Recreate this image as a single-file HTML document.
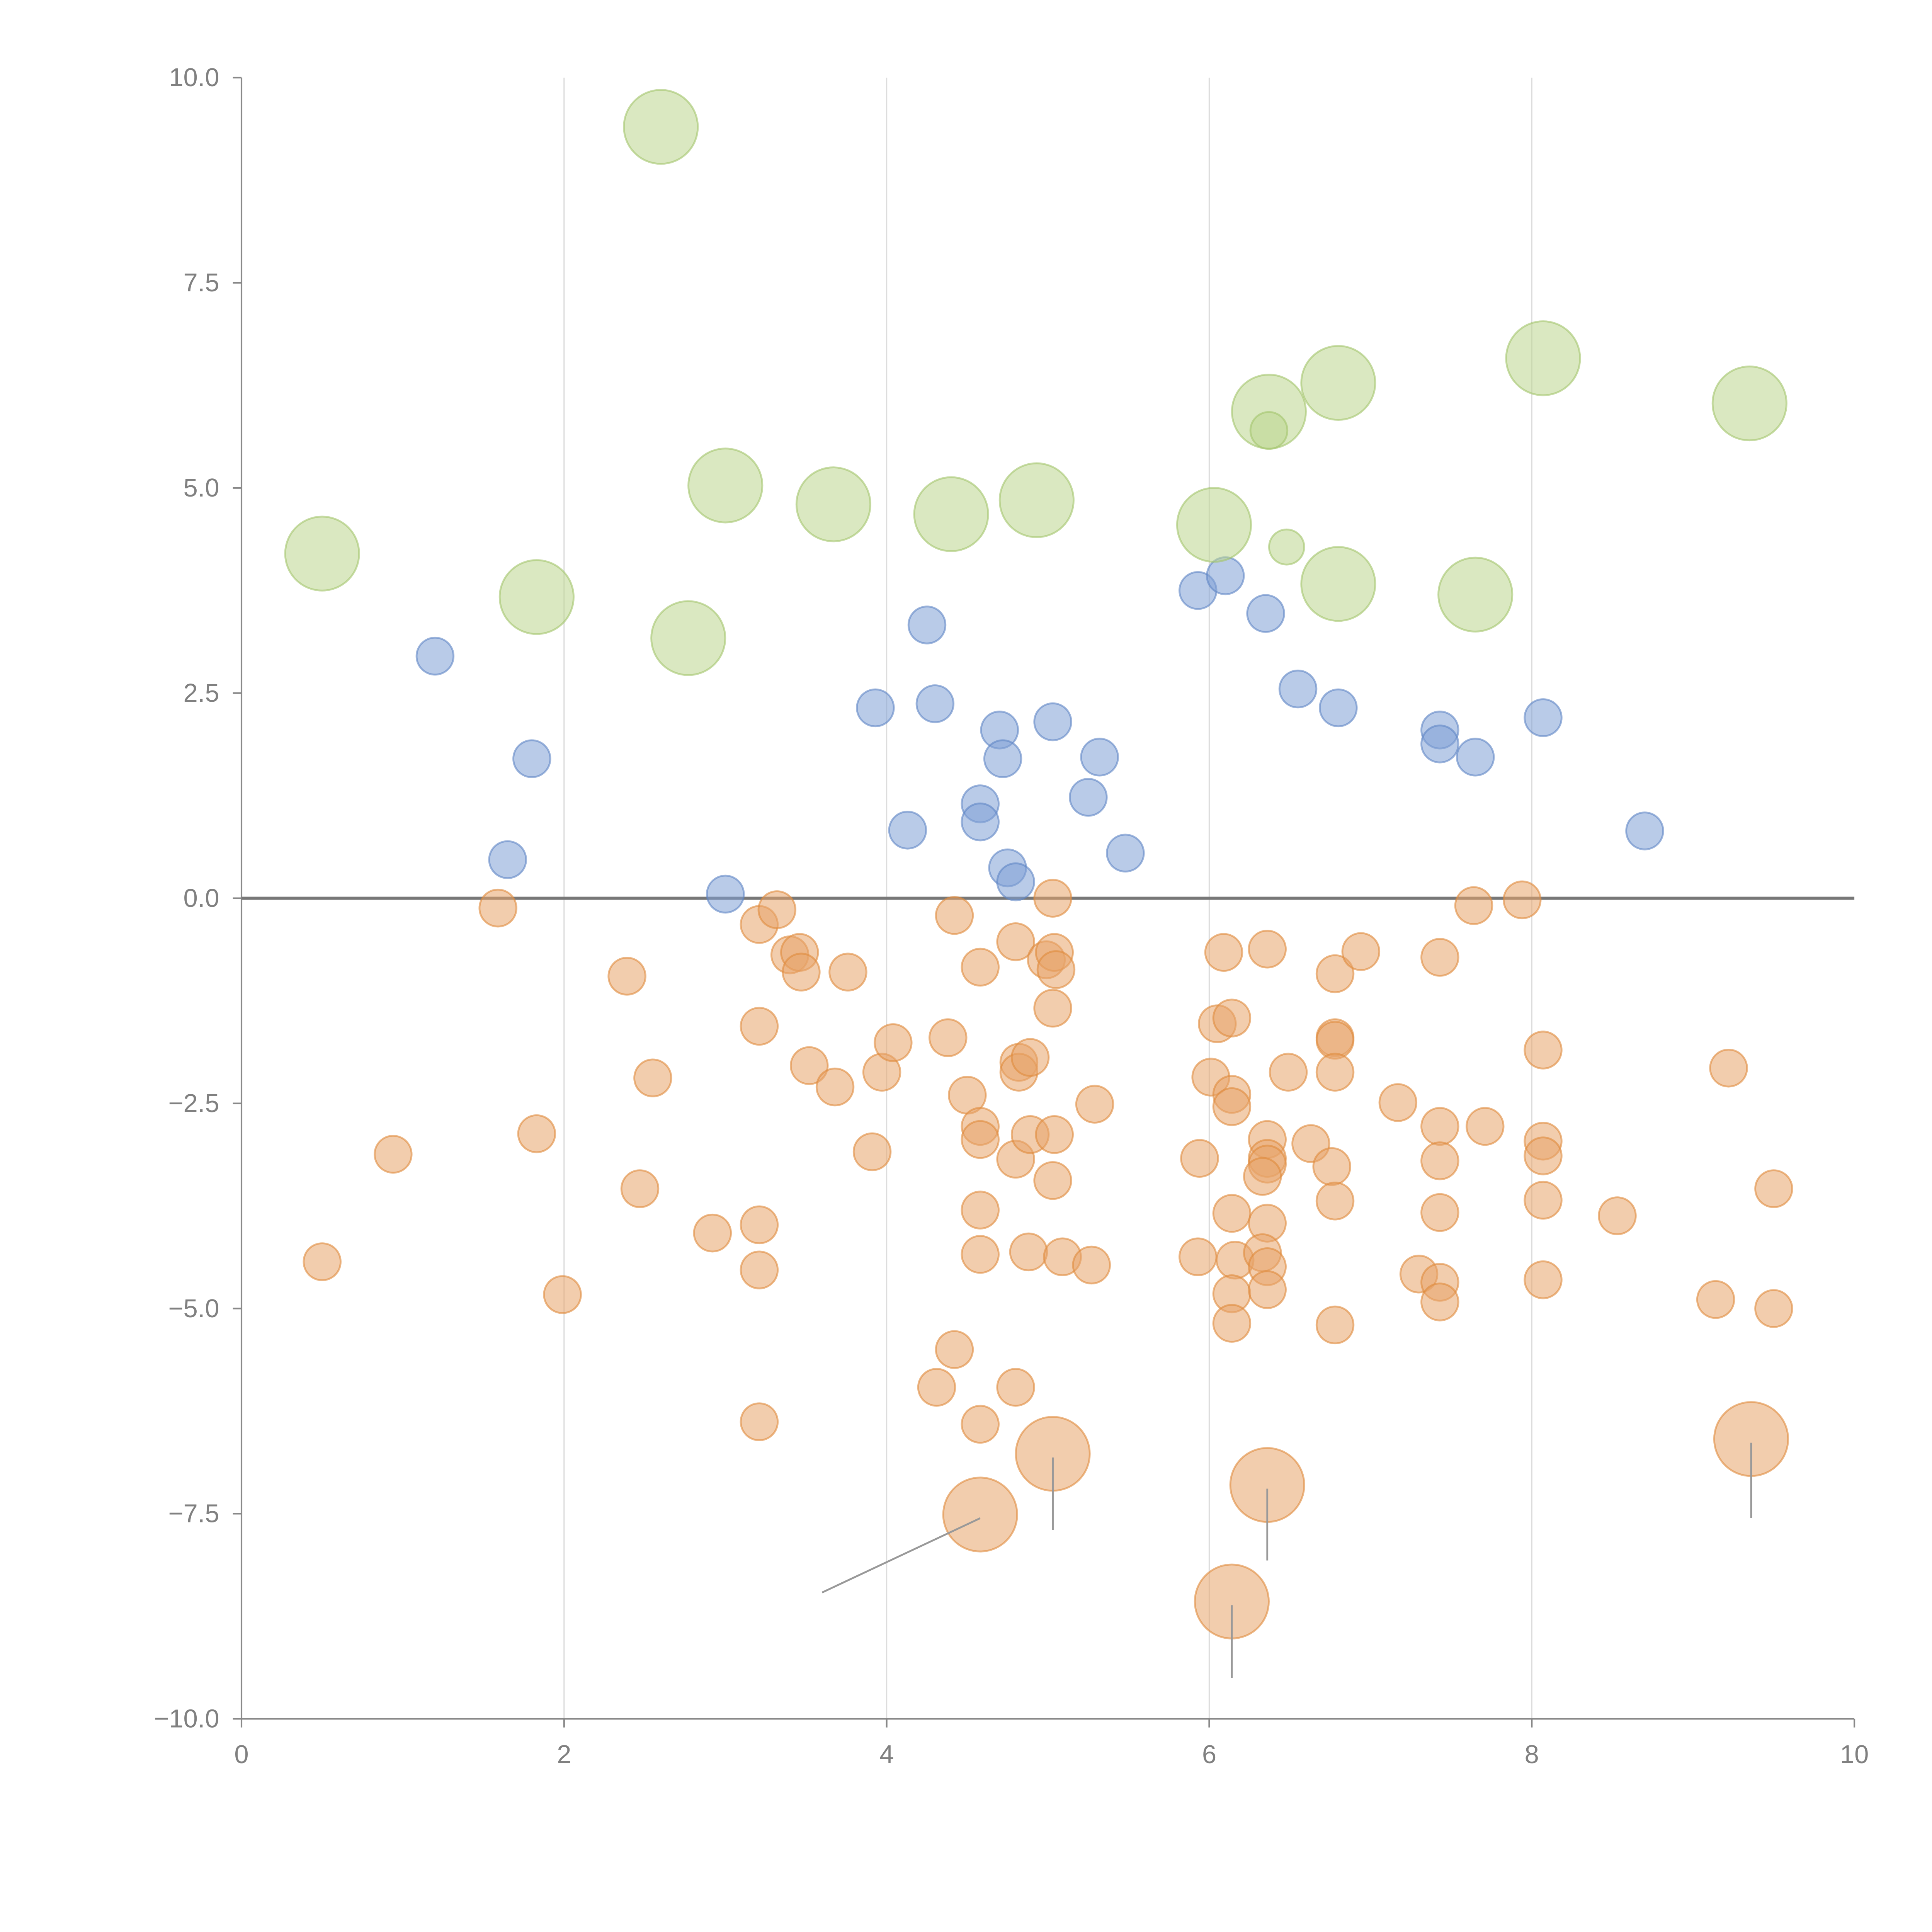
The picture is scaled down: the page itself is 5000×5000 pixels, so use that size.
<!DOCTYPE html>
<html><head><meta charset="utf-8">
<style>html,body{margin:0;padding:0;background:#fff;}svg{display:block;}</style>
</head><body>
<svg id="chart" width="5000" height="5000" viewBox="0 0 1568 1568" xmlns="http://www.w3.org/2000/svg" font-family="Liberation Sans, sans-serif">
<g id="grid"></g>
<g id="axes"></g>
<g id="marks"></g>
</svg>
<script>
const xTicks = [0, 2, 4, 6, 8, 10];
const yTicks = [-10, -7.5, -5, -2.5, 0, 2.5, 5, 7.5, 10];
const yTickLabels = ["\u221210.0", "\u22127.5", "\u22125.0", "\u22122.5", "0.0", "2.5", "5.0", "7.5", "10.0"];
const greenX = [0.5,1.83,2.6,2.77,3.0,3.67,4.4,4.93,6.03,6.37,6.8,6.8,7.65,8.07,9.35,6.37,6.48];
const greenY = [4.2,3.67,9.4,3.17,5.03,4.8,4.68,4.85,4.55,5.93,6.28,3.83,3.7,6.58,6.03,5.7,4.28];
const greenS = [2,2,2,2,2,2,2,2,2,2,2,2,2,2,2,1,0.95];
const blueX = [1.2,1.65,1.8,3.0,3.93,4.13,4.25,4.3,4.7,4.72,4.58,4.58,4.75,4.8,5.03,5.25,5.32,5.48,5.93,6.1,6.35,6.55,6.8,7.43,7.43,7.65,8.07,8.7];
const blueY = [2.95,0.47,1.7,0.05,2.32,0.83,3.33,2.37,2.05,1.7,1.15,0.93,0.37,0.2,2.15,1.23,1.72,0.55,3.75,3.93,3.47,2.55,2.32,2.05,1.88,1.72,2.2,0.82];
const orangeX = [1.59,0.5,0.94,1.83,1.99,2.39,2.55,2.47,2.92,3.21,3.32,3.21,3.4,3.46,3.47,3.52,3.68,3.76,3.91,3.97,4.04,3.21,3.21,3.21,4.42,4.38,4.5,4.58,4.58,4.58,4.58,4.58,4.58,4.42,4.31,4.8,4.82,4.82,4.89,4.8,4.89,4.88,4.8,5.03,4.99,5.04,5.05,5.03,5.04,5.03,5.09,5.27,5.29,6.09,6.36,6.05,6.14,6.01,6.14,6.14,5.94,6.14,5.93,6.16,6.14,6.14,6.36,6.36,6.36,6.33,6.36,6.33,6.36,6.36,6.49,6.63,6.78,6.78,6.78,6.78,6.76,6.78,6.78,6.94,7.17,7.43,7.43,7.43,7.43,7.3,7.43,7.43,7.71,7.64,7.94,8.07,8.07,8.07,8.07,8.07,8.53,9.22,9.14,9.5,9.5];
const orangeY = [-0.12,-4.43,-3.12,-2.87,-4.83,-0.95,-2.19,-3.54,-4.08,-0.32,-0.14,-1.56,-0.69,-0.66,-0.9,-2.04,-2.3,-0.9,-3.09,-2.12,-1.76,-3.98,-4.53,-6.38,-0.21,-1.7,-2.4,-0.84,-2.78,-2.94,-3.8,-4.34,-6.41,-5.5,-5.96,-0.53,-2.0,-2.12,-1.94,-3.18,-2.88,-4.31,-5.96,0.0,-0.75,-0.66,-0.87,-1.34,-2.88,-3.44,-4.37,-4.47,-2.51,-0.66,-0.62,-1.53,-1.46,-2.18,-2.39,-2.54,-3.17,-3.84,-4.37,-4.41,-4.82,-5.18,-2.94,-3.17,-3.24,-3.39,-3.96,-4.32,-4.49,-4.77,-2.12,-2.99,-0.92,-1.7,-1.73,-2.12,-3.27,-3.69,-5.2,-0.65,-2.49,-0.72,-2.78,-3.2,-3.83,-4.58,-4.68,-4.92,-2.78,-0.09,-0.02,-1.85,-2.96,-3.14,-3.68,-4.65,-3.87,-2.07,-4.89,-3.54,-5.0];
const bigOrangeX = [4.58,5.03,6.36,6.14,9.36];
const bigOrangeY = [-7.51,-6.77,-7.15,-8.57,-6.59];
const leaderEndX = [3.6,5.03,6.36,6.14,9.36];
const leaderEndY = [-8.46,-7.7,-8.07,-9.5,-7.55];

const NS = "http://www.w3.org/2000/svg";
const X0 = 196, X1 = 1505, Y0 = 1395, Y1 = 63;
function sx(v){ return X0 + (v - 0) / 10 * (X1 - X0); }
function sy(v){ return Y0 - (v + 10) / 20 * (Y0 - Y1); }
function mk(tag, attrs, parent){ const e = document.createElementNS(NS, tag); for (const k in attrs) e.setAttribute(k, attrs[k]); parent.appendChild(e); return e; }
const grid = document.getElementById('grid'), axes = document.getElementById('axes'), marks = document.getElementById('marks');

xTicks.forEach(t => {
  if (t > 0 && t < 10) {
    const g = mk('line', {x1: sx(t), x2: sx(t), y1: Y1, y2: Y0, stroke: '#dddddd', 'stroke-width': 1}, grid);
    
    
  }
  const tk = mk('line', {x1: sx(t), x2: sx(t), y1: Y0, y2: Y0 + 7, stroke: '#888', 'stroke-width': 1.3}, axes);
  
  
  const lb = mk('text', {x: sx(t), y: Y0 + 36, 'text-anchor': 'middle', 'font-size': 21, fill: '#808080'}, axes);
  lb.textContent = t;
  
  
});
yTicks.forEach((t, i) => {
  const tk = mk('line', {x1: X0 - 7, x2: X0, y1: sy(t), y2: sy(t), stroke: '#888', 'stroke-width': 1.3}, axes);
  
  
  const lb = mk('text', {x: X0 - 18, y: sy(t) + 7, 'text-anchor': 'end', 'font-size': 21, fill: '#808080'}, axes);
  lb.textContent = yTickLabels[i];
  
  
});
const ya = mk('line', {x1: X0, x2: X0, y1: Y1, y2: Y0, stroke: '#888', 'stroke-width': 1.3}, axes);


const xa = mk('line', {x1: X0, x2: X1, y1: Y0, y2: Y0, stroke: '#888', 'stroke-width': 1.3}, axes);


const zl = mk('line', {x1: X0, x2: X1, y1: sy(0), y2: sy(0), stroke: '#777', 'stroke-width': 2.5}, axes);



function dot(x, y, r, fill, stroke, name){
  const c = mk('circle', {cx: sx(x), cy: sy(y), r: r, fill: fill, 'fill-opacity': 0.55, stroke: stroke, 'stroke-opacity': 0.6, 'stroke-width': 1.5}, marks);
  
  
}
orangeX.forEach((x, i) => dot(x, orangeY[i], 15, '#e8a46a', '#e08a3c', 'orange-point'));
blueX.forEach((x, i) => dot(x, blueY[i], 15, '#7fa1d6', '#5f86c4', 'blue-point'));
greenX.forEach((x, i) => dot(x, greenY[i], 15 * greenS[i], '#bcd68e', '#a3c46c', 'green-point'));
bigOrangeX.forEach((x, i) => {
  dot(x, bigOrangeY[i], 30, '#e8a46a', '#e08a3c', 'large-orange-point');
  const l = mk('line', {x1: sx(x), y1: sy(bigOrangeY[i]) + 3, x2: sx(leaderEndX[i]), y2: sy(leaderEndY[i]), stroke: '#999', 'stroke-width': 1.5}, marks);
  
  
});
</script>
</body></html>
